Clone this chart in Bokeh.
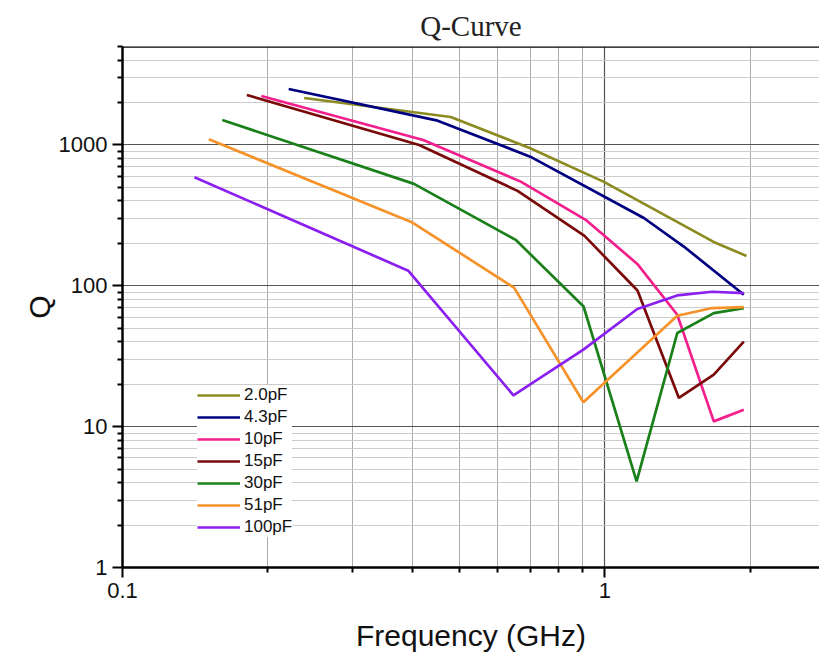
from bokeh.plotting import figure
from bokeh.models import (FixedTicker, CustomJSTickFormatter, Legend, LegendItem,
                          Range1d, Span)
from bokeh.embed import file_html
from bokeh.resources import INLINE

# ---- data (frequency in GHz, Q) ----
f_2p0 = [0.238, 0.479, 0.70, 0.995, 1.68, 1.965]
q_2p0 = [2154, 1580, 948, 547, 205, 163]

f_4p3 = [0.221, 0.45, 0.70, 1.204, 1.457, 1.94]
q_4p3 = [2495, 1487, 826, 303, 190, 86.4]

f_10 = [0.194, 0.42, 0.669, 0.912, 1.167, 1.412, 1.681, 1.94]
q_10 = [2226, 1085, 549, 294, 143, 62.3, 10.9, 13.2]

f_15 = [0.181, 0.412, 0.659, 0.907, 1.168, 1.423, 1.681, 1.94]
q_15 = [2263, 1000, 472, 226, 92.6, 16.0, 23.4, 40.1]

f_30 = [0.161, 0.402, 0.653, 0.903, 1.163, 1.412, 1.681, 1.94]
q_30 = [1504, 529, 212, 71.3, 4.09, 46.2, 64.0, 69.5]

f_51 = [0.151, 0.399, 0.648, 0.902, 1.412, 1.668, 1.94]
q_51 = [1098, 281, 97, 14.9, 61.3, 69.5, 70.6]

f_100 = [0.141, 0.391, 0.646, 0.902, 1.167, 1.412, 1.668, 1.94]
q_100 = [590, 128, 16.7, 35.2, 68.4, 85.4, 90.7, 88.7]

labels = ["2.0pF", "4.3pF", "10pF", "15pF", "30pF", "51pF", "100pF"]
colors = ["#8b8b22", "#000080", "#f21f8c", "#7a0a0a", "#1a801a", "#f5922a", "#8a1ff0"]
series = [(f_2p0, q_2p0), (f_4p3, q_4p3), (f_10, q_10), (f_15, q_15),
          (f_30, q_30), (f_51, q_51), (f_100, q_100)]

x_major = [0.1, 1]
x_minor = [0.2, 0.3, 0.4, 0.5, 0.6, 0.7, 0.8, 0.9, 2]
y_major = [1, 10, 100, 1000]
y_minor = [2, 3, 4, 5, 6, 7, 8, 9, 20, 30, 40, 50, 60, 70, 80, 90,
           200, 300, 400, 500, 600, 700, 800, 900, 2000, 3000, 4000, 5000]

p = figure(width=819, height=654, x_axis_type="log", y_axis_type="log",
           x_range=Range1d(0.1, 2.784), y_range=Range1d(1, 5000),
           output_backend="svg", toolbar_location=None, title="Q-Curve",
           min_border_left=122, min_border_right=0, min_border_top=46,
           min_border_bottom=86)

p.title.align = "center"
p.title.text_font = "Liberation Serif"
p.title.text_font_size = "29px"
p.title.text_font_style = "normal"
p.title.text_color = "#222222"
p.title.standoff = 10
p.outline_line_color = None
p.background_fill_color = "white"

for ax, ticks, minors in ((p.xaxis[0], x_major, x_minor), (p.yaxis[0], y_major, y_minor)):
    ax.ticker = FixedTicker(ticks=ticks, minor_ticks=minors)
    ax.formatter = CustomJSTickFormatter(code="return tick.toString();")
    ax.axis_line_width = 2.5
    ax.axis_line_color = "black"
    ax.major_tick_out = 10
    ax.major_tick_in = 0
    ax.minor_tick_out = 5
    ax.minor_tick_in = 0
    ax.major_tick_line_width = 2
    ax.minor_tick_line_width = 2
    ax.major_tick_line_color = "black"
    ax.minor_tick_line_color = "black"
    ax.major_label_text_font = "Liberation Sans"
    ax.major_label_text_font_size = "22px"
    ax.major_label_text_color = "#111111"
    ax.axis_label_text_font = "Liberation Sans"
    ax.axis_label_text_font_size = "30px"
    ax.axis_label_text_font_style = "normal"
    ax.axis_label_text_color = "#111111"

p.xaxis.axis_label = "Frequency (GHz)"
p.yaxis.axis_label = "Q"
p.xaxis.axis_label_standoff = 18
p.yaxis.axis_label_standoff = 0

p.xgrid.grid_line_color = "#555555"
p.xgrid.minor_grid_line_color = "#aaaaaa"
p.ygrid.grid_line_color = "#555555"
p.ygrid.minor_grid_line_color = "#cccccc"
p.xgrid.grid_line_width = 1.2
p.ygrid.grid_line_width = 1.2

top_line = Span(location=5000, dimension="width", line_color="black", line_width=2.5)
p.add_layout(top_line)

items = []
for (fx, qy), lab, col in zip(series, labels, colors):
    r = p.line(fx, qy, line_color=col, line_width=2.7)
    items.append(LegendItem(label=lab, renderers=[r]))

legend = Legend(items=items, location=(75, 30))
legend.border_line_color = None
legend.background_fill_color = "white"
legend.background_fill_alpha = 1.0
legend.label_text_font = "Liberation Sans"
legend.label_text_font_size = "17px"
legend.label_text_color = "#111111"
legend.glyph_width = 43
legend.glyph_height = 20
legend.label_height = 20
legend.spacing = 2
legend.padding = 5
legend.margin = 0
legend.label_standoff = 4
p.add_layout(legend)

open("out.html", "w").write(file_html(p, INLINE))
